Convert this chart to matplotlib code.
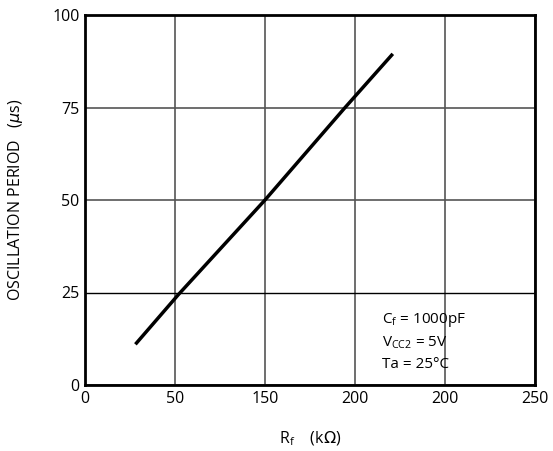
import matplotlib
matplotlib.use("Agg")
import matplotlib.pyplot as plt

rf = [28, 52, 100, 144.5, 171]
period = [11.0, 24.5, 50, 75, 89.5]
x_ticks = [0, 50, 100, 150, 200, 250]
x_tick_labels = ["0", "50", "150", "200", "200", "250"]
y_ticks = [0, 25, 50, 75, 100]
y_tick_labels = ["0", "25", "50", "75", "100"]

plt.rcParams['font.family'] = ['Open Sans', 'DejaVu Sans']

fig = plt.figure(figsize=(5.53, 4.51), dpi=100)
ax = fig.add_axes([85/553, 1-385/451, 450/553, 370/451])
ax.set_xlim(0, 250)
ax.set_ylim(0, 100)
ax.set_xticks(x_ticks)
ax.set_xticklabels(x_tick_labels)
ax.set_yticks(y_ticks)
ax.set_yticklabels(y_tick_labels)
ax.tick_params(length=0, labelsize=11.5, pad=4)
ax.grid(True, color='#555555', linewidth=1.2)
ygl = ax.yaxis.get_gridlines()
ygl[1].set_color('black')
ygl[1].set_linewidth(1.0)
for s in ax.spines.values():
    s.set_linewidth(2)
    s.set_color('black')
ax.plot(rf, period, color='black', linewidth=2.5, solid_capstyle='butt')

ax.set_ylabel("OSCILLATION PERIOD   ($\\mu$s)", fontsize=11.5)
ax.yaxis.set_label_coords(-60/450, 0.5)
ax.set_xlabel("R$_\\mathregular{f}$    (k$\\Omega$)", fontsize=11.5)
ax.xaxis.set_label_coords(0.5, -45/370)

ax.text(0.66, 0.175, "C$_\\mathregular{f}$ = 1000pF", transform=ax.transAxes, fontsize=11, va='center')
ax.text(0.66, 0.115, "V$_\\mathregular{CC2}$ = 5V", transform=ax.transAxes, fontsize=11, va='center')
ax.text(0.66, 0.055, "Ta = 25°C", transform=ax.transAxes, fontsize=11, va='center')

fig.savefig("out.png", dpi=100)
